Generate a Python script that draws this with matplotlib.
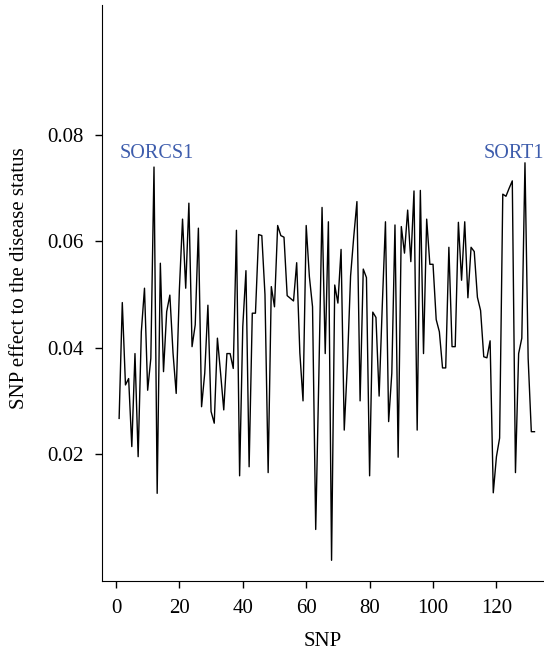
import numpy as np
import matplotlib
matplotlib.use("Agg")
import matplotlib.pyplot as plt

# SNP index and effect values
snp_effect = [
    0.0267, 0.0485, 0.0330, 0.0342, 0.0214, 0.0389, 0.0195, 0.0430, 0.0512, 0.0320,
    0.0380, 0.0740, 0.0126, 0.0559, 0.0355, 0.0468, 0.0499, 0.0390, 0.0314, 0.0509,
    0.0642, 0.0512, 0.0672, 0.0402, 0.0443, 0.0625, 0.0289, 0.0352, 0.0480, 0.0280,
    0.0258, 0.0418, 0.0352, 0.0283, 0.0389, 0.0389, 0.0361, 0.0621, 0.0159, 0.0440,
    0.0545, 0.0176, 0.0465, 0.0465, 0.0613, 0.0611, 0.0500, 0.0165, 0.0515, 0.0477,
    0.0630, 0.0611, 0.0608, 0.0498, 0.0493, 0.0488, 0.0560, 0.0390, 0.0300, 0.0630,
    0.0534, 0.0477, 0.0058, 0.0350, 0.0664, 0.0389, 0.0637, 0.0000, 0.0518, 0.0484,
    0.0585, 0.0245, 0.0370, 0.0535, 0.0609, 0.0675, 0.0300, 0.0548, 0.0532, 0.0159,
    0.0467, 0.0457, 0.0309, 0.0480, 0.0637, 0.0261, 0.0352, 0.0631, 0.0194, 0.0628,
    0.0578, 0.0659, 0.0562, 0.0695, 0.0245, 0.0696, 0.0389, 0.0642, 0.0557, 0.0557,
    0.0453, 0.0430, 0.0362, 0.0362, 0.0589, 0.0402, 0.0402, 0.0636, 0.0527, 0.0637,
    0.0494, 0.0589, 0.0581, 0.0495, 0.0470, 0.0383, 0.0381, 0.0413, 0.0127, 0.0195,
    0.0230, 0.0689, 0.0685, 0.0700, 0.0714, 0.0165, 0.0389, 0.0418, 0.0748, 0.0380,
    0.0242, 0.0242,
]
snp_index = np.arange(1, len(snp_effect) + 1)

gene_names = ["SORCS1", "SORT1"]
gene_x = [1.3, 115.9]
gene_y = [0.0765, 0.0765]

plt.rcParams["font.family"] = ["Liberation Serif", "DejaVu Serif"]

fig = plt.figure(figsize=(5.44, 6.54), dpi=100)
ax = fig.add_axes([0.1875, 0.1116, 0.8125, 0.8808])

ax.plot(snp_index, snp_effect, color="black", linewidth=1.0)

# gene labels above the two peaks
for name, gx, gy in zip(gene_names, gene_x, gene_y):
    ax.text(gx, gy, name, color="#3D5CAC", fontsize=14.5,
            ha="left", va="center", clip_on=False)

ax.set_xlim(-4.4, 135)
ax.set_ylim(-0.0039, 0.1045)
ax.set_xticks([0, 20, 40, 60, 80, 100, 120])
ax.set_yticks([0.02, 0.04, 0.06, 0.08])
ax.set_yticklabels(["0.02", "0.04", "0.06", "0.08"])

ax.spines["top"].set_visible(False)
ax.spines["right"].set_visible(False)
ax.tick_params(labelsize=15, length=5, width=1, pad=8)

ax.set_xlabel("SNP", fontsize=15, labelpad=10)
ax.set_ylabel("SNP effect to the disease status", fontsize=15)
ax.yaxis.set_label_coords(-0.165, 0.525)

fig.savefig("out.png", dpi=100)
